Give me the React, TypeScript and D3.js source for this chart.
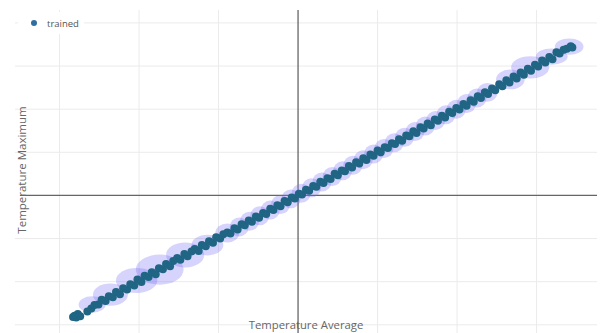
import * as d3 from 'd3';

// trained points: [Temperature Average, Temperature Maximum]
const trainedPoints: [number, number][] = [
  [-28.1, -27.9], [-27.7, -27.5], [-27.9, -28.3], [-27.4, -28.0], [-28.3, -28.2],
  [-26.5, -26.9], [-26.0, -26.2], [-25.6, -25.4], [-25.1, -25.3], [-24.7, -24.2],
  [-24.2, -24.5], [-23.8, -23.4], [-23.3, -23.6], [-22.9, -22.4], [-22.4, -22.9],
  [-22.0, -21.5], [-21.5, -21.8], [-21.1, -20.6], [-20.6, -20.9], [-20.2, -19.5],
  [-19.7, -20.1], [-19.3, -18.6], [-18.8, -18.9], [-18.4, -17.8], [-17.9, -18.3],
  [-17.5, -16.9], [-17.0, -17.1], [-16.6, -15.9], [-16.1, -16.4], [-15.7, -15.2],
  [-15.2, -14.5], [-14.8, -14.9], [-14.3, -13.6], [-13.9, -14.1], [-13.4, -13.0],
  [-13.0, -12.4], [-12.5, -12.9], [-12.1, -11.5], [-11.6, -11.8], [-11.2, -10.6],
  [-10.7, -11.0], [-10.3, -9.7], [-9.8, -10.0], [-9.4, -9.0], [-8.9, -8.6],
  [-8.5, -8.8], [-8.0, -7.6], [-7.6, -7.9], [-7.1, -6.7], [-6.7, -6.9],
  [-6.2, -5.8], [-5.8, -6.1], [-5.3, -4.9], [-4.9, -5.2], [-4.4, -4.1],
  [-4.0, -4.3], [-3.5, -3.1], [-3.1, -3.4], [-2.6, -2.3], [-2.2, -2.5],
  [-1.7, -1.3], [-1.3, -1.6], [-0.8, -0.5], [-0.4, -0.7], [0.1, 0.4],
  [0.5, 0.2], [1.0, 1.3], [1.4, 1.1], [1.9, 2.2], [2.3, 2.0],
  [2.8, 3.2], [3.2, 2.9], [3.7, 4.0], [4.1, 3.8], [4.6, 5.0],
  [5.0, 4.7], [5.5, 5.8], [5.9, 5.6], [6.4, 6.8], [6.8, 6.5],
  [7.3, 7.7], [7.7, 7.4], [8.2, 8.6], [8.6, 8.2], [9.1, 9.5],
  [9.5, 9.2], [10.0, 10.4], [10.4, 10.0], [10.9, 11.2], [11.3, 11.0],
  [11.8, 12.1], [12.2, 11.9], [12.7, 13.0], [13.1, 12.7], [13.6, 13.9],
  [14.0, 13.7], [14.5, 14.9], [14.9, 14.5], [15.4, 15.8], [15.8, 15.5],
  [16.3, 16.7], [16.7, 16.3], [17.2, 17.6], [17.6, 17.3], [18.1, 18.5],
  [18.5, 18.1], [19.0, 19.4], [19.4, 19.1], [19.9, 20.3], [20.3, 19.9],
  [20.8, 21.2], [21.2, 20.8], [21.7, 22.1], [22.1, 21.7], [22.6, 23.0],
  [23.0, 22.6], [23.5, 23.9], [23.9, 23.5], [24.4, 24.8], [24.8, 24.4],
  [25.3, 25.8], [25.7, 25.3], [26.2, 26.7], [26.6, 26.2], [27.1, 27.6],
  [27.5, 27.1], [28.0, 28.5], [28.4, 28.0], [28.9, 29.4], [29.3, 28.9],
  [29.8, 30.3], [30.2, 29.9], [30.7, 31.3], [31.1, 30.8], [31.6, 32.1],
  [32.0, 31.6], [32.5, 33.2], [32.9, 32.9], [33.4, 33.8], [33.8, 34.0],
  [34.3, 34.6], [34.5, 34.3],
];

// spread halos: [cx, cy, rx, ry] in data units
const spreadHalos: [number, number, number, number][] = [
  [-25.9, -25.3, 1.7, 1.9],
  [-23.6, -23.0, 2.2, 2.6],
  [-20.3, -19.7, 2.6, 2.9],
  [-17.4, -17.2, 3.0, 3.5],
  [-14.2, -13.8, 2.4, 2.9],
  [-11.4, -11.5, 2.0, 2.4],
  [-8.9, -8.7, 1.5, 2.2],
  [-7.4, -7.3, 1.2, 2.2],
  [-6.1, -6.0, 1.2, 2.2],
  [-4.8, -4.7, 1.2, 2.2],
  [-3.5, -3.4, 1.2, 2.2],
  [-2.2, -2.1, 1.2, 2.2],
  [-0.9, -0.8, 1.2, 2.2],
  [0.4, 0.5, 1.2, 2.2],
  [1.7, 1.8, 1.2, 2.2],
  [3.0, 3.1, 1.2, 2.2],
  [4.3, 4.4, 1.2, 2.2],
  [5.6, 5.7, 1.2, 2.2],
  [6.9, 7.0, 1.2, 2.2],
  [8.2, 8.3, 1.2, 2.2],
  [9.5, 9.6, 1.2, 2.2],
  [10.8, 10.9, 1.2, 2.2],
  [12.1, 12.2, 1.2, 2.2],
  [13.4, 13.5, 1.2, 2.2],
  [14.7, 14.8, 1.2, 2.2],
  [16.0, 16.1, 1.2, 2.2],
  [17.3, 17.4, 1.2, 2.2],
  [18.6, 18.7, 1.2, 2.2],
  [19.9, 20.0, 1.2, 2.2],
  [21.2, 21.3, 1.2, 2.2],
  [22.5, 22.6, 1.2, 2.2],
  [23.8, 23.9, 1.3, 2.2],
  [26.7, 26.9, 1.8, 2.3],
  [29.2, 29.7, 2.4, 2.6],
  [31.9, 32.2, 2.0, 1.9],
  [34.1, 34.5, 1.8, 1.9],
];

const xGrid = [-30, -20, -10, 10, 20, 30];
const yGrid = [-30, -20, -10, 10, 20, 30, 40];

const legendLabel = 'trained';
const xTitle = 'Temperature Average';
const yTitle = 'Temperature Maximum';

const W = 602;
const H = 333;
const plot = { left: 15, right: 597, top: 10, bottom: 333 };

export default function App() {
  const x = d3.scaleLinear().domain([-35.6, 37.6]).range([plot.left, plot.right]);
  const y = d3.scaleLinear().domain([-31.9, 43]).range([plot.bottom, plot.top]);
  const font = '"Open Sans", "Noto Sans", sans-serif';

  return (
    <svg width={W} height={H} style={{ position: 'absolute', left: 0, top: 0, background: '#fff' }}>
      {/* grid */}
      {xGrid.map((v) => (
        <line key={'gx' + v} x1={x(v)} x2={x(v)} y1={plot.top} y2={plot.bottom} stroke="#ebebeb" strokeWidth={1} />
      ))}
      {yGrid.map((v) => (
        <line key={'gy' + v} x1={plot.left} x2={plot.right} y1={y(v)} y2={y(v)} stroke="#ebebeb" strokeWidth={1} />
      ))}
      {/* zero lines */}
      <line x1={x(0)} x2={x(0)} y1={plot.top} y2={plot.bottom} stroke="#666" strokeWidth={1.3} />
      <line x1={20} x2={plot.right} y1={y(0)} y2={y(0)} stroke="#666" strokeWidth={1.3} />

      {/* halos */}
      {spreadHalos.map(([cx, cy, rx, ry], i) => (
        <ellipse
          key={'h' + i}
          cx={x(cx)}
          cy={y(cy)}
          rx={x(rx) - x(0)}
          ry={y(0) - y(ry)}
          fill="rgb(120,110,245)"
          fillOpacity={0.3}
        />
      ))}

      {/* points */}
      {trainedPoints.map(([px, py], i) => (
        <circle key={'p' + i} cx={x(px)} cy={y(py)} r={4} fill="#206584" />
      ))}

      {/* legend */}
      <rect x={18} y={12} width={66} height={22} fill="#fff" />
      <circle cx={34} cy={23} r={3} fill="#2f6fa0" />
      <text x={47} y={26.5} fontFamily={font} fontSize={9.5} fill="#555">
        {legendLabel}
      </text>

      {/* axis titles */}
      <text x={306} y={329} textAnchor="middle" fontFamily={font} fontSize={11.3} fill="#666">
        {xTitle}
      </text>
      <text
        transform={`translate(26,${170}) rotate(-90)`}
        textAnchor="middle"
        fontFamily={font}
        fontSize={11.5}
        fill="#666"
      >
        {yTitle}
      </text>
    </svg>
  );
}
